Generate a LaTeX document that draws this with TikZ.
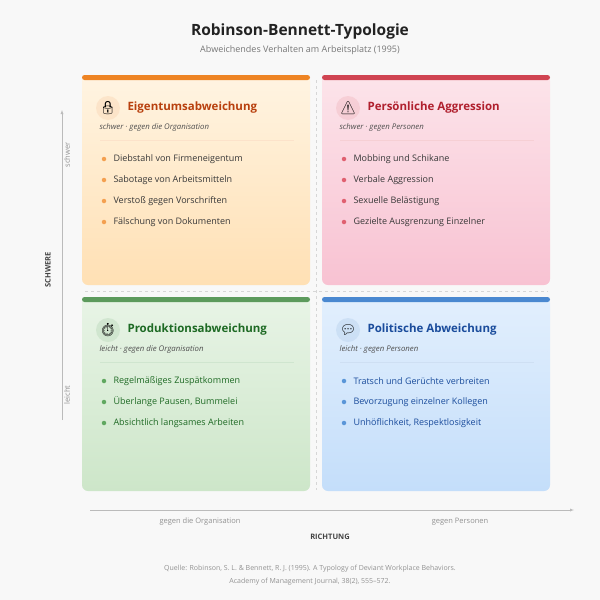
\documentclass[tikz,border=0pt]{standalone}
\usepackage{fontspec}
\setmainfont{Open Sans}
\newfontfamily\emojifont{Noto Emoji}
\usetikzlibrary{positioning}
\definecolor{bg}{HTML}{F8F8F8}
\definecolor{ink}{HTML}{222222}
\definecolor{muted}{HTML}{777777}
\definecolor{axisgray}{HTML}{BBBBBB}
\definecolor{orangebar}{HTML}{EE8424}
\definecolor{orangetxt}{HTML}{B8400E}
\definecolor{orangetop}{HTML}{FFF4E2}
\definecolor{orangebot}{HTML}{FFE0B4}
\definecolor{orangedot}{HTML}{F4A050}
\definecolor{redbar}{HTML}{D04452}
\definecolor{redtxt}{HTML}{B0202E}
\definecolor{redtop}{HTML}{FCE4EA}
\definecolor{redbot}{HTML}{F8C2D2}
\definecolor{reddot}{HTML}{E06070}
\definecolor{greenbar}{HTML}{5C9A5C}
\definecolor{greentxt}{HTML}{1E6A24}
\definecolor{greentop}{HTML}{E8F4E6}
\definecolor{greenbot}{HTML}{CDE6C9}
\definecolor{greendot}{HTML}{60A860}
\definecolor{bluebar}{HTML}{4A88D0}
\definecolor{bluetxt}{HTML}{1A4C9C}
\definecolor{bluetop}{HTML}{E2EFFD}
\definecolor{bluebot}{HTML}{C4DEFA}
\definecolor{bluedot}{HTML}{5A96D8}
\begin{document}
\begin{tikzpicture}[
    x=1pt, y=-1pt,
    panel/.style={rounded corners=6pt},
    iconbg/.style={circle, minimum size=24pt, inner sep=0, fill=white, fill opacity=0.5, text opacity=1},
    heading/.style={anchor=west, font=\fontsize{11.5}{14}\selectfont\bfseries},
    subline/.style={anchor=west, font=\fontsize{7.8}{10}\selectfont\itshape, text=ink!80},
    item/.style={anchor=west, font=\fontsize{9}{11}\selectfont},
    dot/.style={circle, inner sep=0, minimum size=4.5pt},
    axislabel/.style={font=\fontsize{7.5}{9}\selectfont, text=muted!80},
    axistitle/.style={font=\fontsize{7.5}{10}\selectfont\bfseries, text=ink!85}
]
\useasboundingbox (0,0) rectangle (600,600);
\fill[bg] (0,0) rectangle (600,600);

% title
\node (title) at (300,31) {\fontsize{15.5}{19}\selectfont\bfseries\color{ink}Robinson-Bennett-Typologie};
\node (subtitle) at (300,50) {\fontsize{9}{11}\selectfont\color{muted}Abweichendes Verhalten am Arbeitsplatz (1995)};

% dividers
\draw[axisgray!60, dashed] (316,80) -- (316,490);
\draw[axisgray!60, dashed] (85,291) -- (548,291);

% panels: x0, y0, y1, bar, top, bottom
\foreach \x/\ya/\yb/\bar/\top/\bot in {82/75/285/orangebar/orangetop/orangebot,
                                       322/75/285/redbar/redtop/redbot,
                                       82/297/491/greenbar/greentop/greenbot,
                                       322/297/491/bluebar/bluetop/bluebot}{
  \shade[panel, top color=\top, bottom color=\bot] (\x,\ya) rectangle (\x+228,\yb);
  \fill[\bar, rounded corners=2.5pt] (\x,\ya) rectangle (\x+228,\ya+5);
}

% quadrant contents: x0, y0, icon, colour prefix, heading, subline
\foreach \x/\y/\ic/\col/\head/\sub in {
    82/108/🔒/orange/Eigentumsabweichung/{schwer · gegen die Organisation},
    322/108/⚠/red/Persönliche Aggression/{schwer · gegen Personen},
    82/330/⏱/green/Produktionsabweichung/{leicht · gegen die Organisation},
    322/330/💬/blue/Politische Abweichung/{leicht · gegen Personen}}{
  \node[iconbg, fill=\col dot!40] at (\x+26,\y) {\emojifont\fontsize{13}{13}\selectfont\ic};
  \node[heading, text=\col txt] at (\x+42,\y) {\head};
  \node[subline] at (\x+14,\y+19) {\sub};
  \draw[\col dot!30, line width=0.8pt] (\x+18,\y+32) -- (\x+212,\y+32);
}

% items
\foreach \t [count=\i] in {Diebstahl von Firmeneigentum, Sabotage von Arbeitsmitteln,
                            Verstoß gegen Vorschriften, Fälschung von Dokumenten}{
  \node[dot, fill=orangedot] at (104,138+21*\i) {};
  \node[item, text=ink!90] at (110,138+21*\i) {\t};
}
\foreach \t [count=\i] in {Mobbing und Schikane, Verbale Aggression,
                            Sexuelle Belästigung, Gezielte Ausgrenzung Einzelner}{
  \node[dot, fill=reddot] at (344,138+21*\i) {};
  \node[item, text=ink!90] at (350,138+21*\i) {\t};
}
\foreach \t [count=\i] in {Regelmäßiges Zuspätkommen, Überlange Pausen{,} Bummelei,
                            Absichtlich langsames Arbeiten}{
  \node[dot, fill=greendot] at (104,360+21*\i) {};
  \node[item, text=greentxt] at (110,360+21*\i) {\t};
}
\foreach \t [count=\i] in {Tratsch und Gerüchte verbreiten, Bevorzugung einzelner Kollegen,
                            Unhöflichkeit{,} Respektlosigkeit}{
  \node[dot, fill=bluedot] at (344,360+21*\i) {};
  \node[item, text=bluetxt] at (350,360+21*\i) {\t};
}

% axes
\coordinate (vlow) at (62,420);
\coordinate (vhigh) at (62,110);
\coordinate (hleft) at (90,510);
\coordinate (hright) at (574,510);
\draw[axisgray, -latex] (vlow) -- (vhigh);
\draw[axisgray, -latex] (hleft) -- (hright);
\node[axislabel, rotate=90] (schwer) at (67,155) {schwer};
\node[axislabel, rotate=90] (leicht) at (67,395) {leicht};
\node[axistitle, rotate=90] (schwere) at (48,270) {SCHWERE};
\node[axislabel] (org) at (200,522) {gegen die Organisation};
\node[axislabel] (pers) at (460,522) {gegen Personen};
\node[axistitle] (richtung) at (330,537) {RICHTUNG};

% source
\node[axislabel, align=center, font=\fontsize{7}{13}\selectfont] (source) at (310,575)
  {Quelle: Robinson, S. L. \& Bennett, R. J. (1995). A Typology of Deviant Workplace Behaviors.\\
   Academy of Management Journal, 38(2), 555–572.};
\end{tikzpicture}
\end{document}
